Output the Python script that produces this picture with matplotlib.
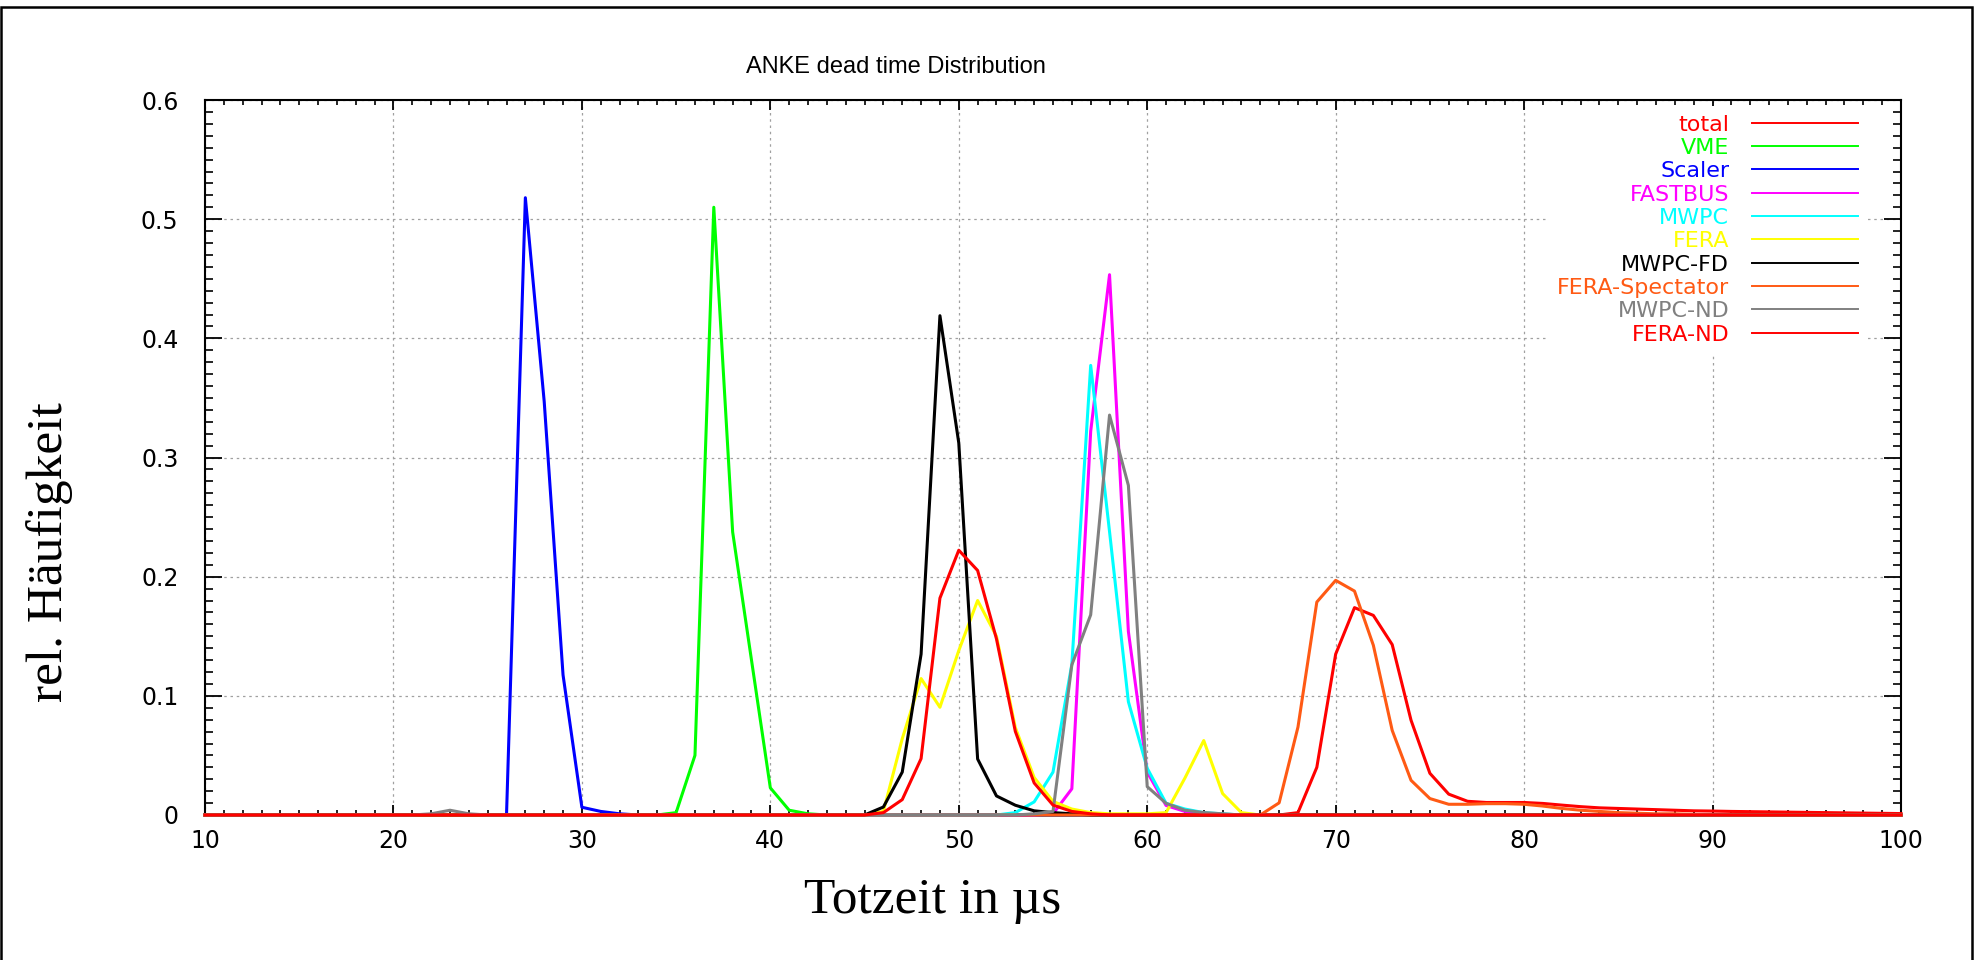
import numpy as np
import matplotlib
matplotlib.use('Agg')
import matplotlib.pyplot as plt
from matplotlib.ticker import MultipleLocator, FuncFormatter
from matplotlib.patches import Rectangle

# bins 10..100 us, each series: first bin + values (rest is 0)
x = np.arange(10, 101)

names = ['total', 'VME', 'Scaler', 'FASTBUS', 'MWPC', 'FERA', 'MWPC-FD',
         'FERA-Spectator', 'MWPC-ND', 'FERA-ND']
colors = ['#ff0000', '#00ff00', '#0000ff', '#ff00ff', '#00ffff', '#ffff00',
          '#000000', '#ff5a14', '#808080', '#ff0000']

total_start = 67
total = [0, 0.002, 0.040, 0.135, 0.174, 0.1675, 0.143, 0.0795, 0.035, 0.0175,
         0.0115, 0.0105, 0.0105, 0.0105, 0.0097, 0.0083, 0.007, 0.006, 0.0055,
         0.005, 0.0045, 0.004, 0.0035, 0.0033, 0.003, 0.0028, 0.0026, 0.0024,
         0.0022, 0.002, 0.0018, 0.0016, 0.0014, 0.0012]
vme_start = 34
vme = [0, 0.002, 0.050, 0.510, 0.2375, 0.130, 0.0228, 0.004, 0.001, 0]
scaler_start = 25
scaler = [0, 0, 0.518, 0.347, 0.1175, 0.0065, 0.003, 0.001, 0]
fastbus_start = 54
fastbus = [0, 0.001, 0.022, 0.322, 0.4534, 0.154, 0.036, 0.008, 0.003, 0.001, 0]
mwpc_start = 52
mwpc = [0, 0.002, 0.011, 0.036, 0.1265, 0.3773, 0.2378, 0.0951, 0.0392,
        0.0098, 0.005, 0.002, 0.001, 0]
fera_start = 45
fera = [0, 0.003, 0.064, 0.1145, 0.0904, 0.138, 0.180, 0.150, 0.0734, 0.0315,
        0.0114, 0.005, 0.002, 0.001, 0.001, 0.001, 0.002, 0.031, 0.0625, 0.018,
        0.002, 0]
mwpc_fd_start = 44
mwpc_fd = [0, 0, 0.0067, 0.036, 0.135, 0.419, 0.3122, 0.047, 0.016, 0.0082,
           0.0035, 0.002, 0.001, 0]
fera_spec_start = 65
fera_spec = [0, 0, 0.0102, 0.0738, 0.1787, 0.1969, 0.1879, 0.1424, 0.071,
             0.0291, 0.0138, 0.009, 0.009, 0.0095, 0.0095, 0.009, 0.0075,
             0.0055, 0.004, 0.003, 0.002, 0.0015, 0.001, 0.001, 0.0005, 0]
mwpc_nd_start = 21
mwpc_nd = [0, 0.001, 0.004, 0.001] + [0] * 29 + [0.001, 0.003, 0.126, 0.168,
           0.3356, 0.2766, 0.0238, 0.0098, 0.004, 0.002, 0.001, 0]
fera_nd_start = 44
fera_nd = [0, 0, 0.002, 0.0129, 0.0473, 0.182, 0.2222, 0.2052, 0.1478, 0.0702,
           0.0269, 0.0083, 0.003, 0.001, 0]

series = [(total_start, total), (vme_start, vme), (scaler_start, scaler),
          (fastbus_start, fastbus), (mwpc_start, mwpc), (fera_start, fera),
          (mwpc_fd_start, mwpc_fd), (fera_spec_start, fera_spec),
          (mwpc_nd_start, mwpc_nd), (fera_nd_start, fera_nd)]

fig = plt.figure(figsize=(19.76, 9.6), dpi=100)
ax = fig.add_axes([205/1976, 145/960, 1696/1976, 715/960])

for (start, vals), name, c in zip(series, names, colors):
    y = np.zeros(len(x))
    y[start - 10:start - 10 + len(vals)] = vals
    ax.plot(x, y, color=c, lw=2.2, label=name, zorder=3, clip_on=False)

ax.set_xlim(10, 100)
ax.set_ylim(0, 0.6)
ax.xaxis.set_major_locator(MultipleLocator(10))
ax.xaxis.set_minor_locator(MultipleLocator(1))
ax.yaxis.set_major_locator(MultipleLocator(0.1))
ax.yaxis.set_minor_locator(MultipleLocator(0.01))
ax.yaxis.set_major_formatter(FuncFormatter(lambda v, p: '0' if abs(v) < 1e-9 else '%.1f' % v))

ax.tick_params(axis='x', which='major', direction='in', length=7, width=1.3,
               top=True, bottom=True, labelsize=17, pad=10)
ax.tick_params(axis='x', which='minor', direction='in', length=3.5, width=1.2,
               top=True, bottom=True)
ax.tick_params(axis='y', which='major', direction='in', length=12, width=1.3,
               left=True, right=True, labelsize=17, pad=19)
ax.tick_params(axis='y', which='minor', direction='in', length=6, width=1.2,
               left=True, right=True)
for t in ax.get_xticklabels() + ax.get_yticklabels():
    t.set_fontfamily('DejaVu Sans')
for s in ax.spines.values():
    s.set_linewidth(1.5)

ax.grid(True, which='major', color='#a0a0a0', linestyle=(0, (2, 3)), lw=0.9)
ax.set_axisbelow(True)

leg = ax.legend(loc='upper right', bbox_to_anchor=(0.98, 0.992), markerfirst=False,
                labelcolor='linecolor', prop={'family': 'DejaVu Sans', 'size': 16},
                handlelength=4.8, handletextpad=1.0, labelspacing=0.15,
                borderpad=0.4, borderaxespad=0, frameon=True, fancybox=False,
                framealpha=1, facecolor='white', edgecolor='none')
leg.set_zorder(4)
for h in leg.get_lines():
    h.set_linewidth(1.4)

fig.text(896/1976, 1 - 67/960, 'ANKE dead time Distribution', ha='center', va='center',
         fontsize=17, family='Liberation Sans')
fig.text(50/1976, 1 - 552/960, 'rel. Häufigkeit', rotation=90, ha='center', va='center',
         fontsize=37, family='Liberation Serif')
fig.text(933/1976, 1 - 901/960, 'Totzeit in µs', ha='center', va='center',
         fontsize=37, family='Liberation Serif')

fig.patches.append(Rectangle((0.0005, -0.01), 1971/1976, (960 - 7)/960 + 0.01,
                             transform=fig.transFigure, fill=False, ec='black', lw=1.8))

fig.savefig('out.png', dpi=100)
